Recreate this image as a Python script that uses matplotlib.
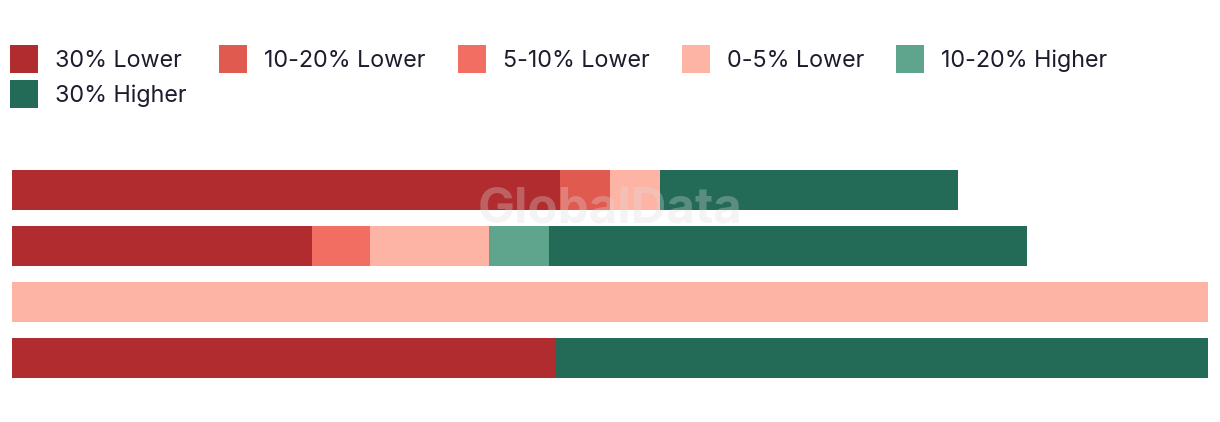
import numpy as np
import matplotlib
matplotlib.use("Agg")
import matplotlib.pyplot as plt
from matplotlib.patches import Patch

# --------------------------------------
# Data (bar rows top -> bottom, share of full width)
# --------------------------------------
rows = ["Row 1", "Row 2", "Row 3", "Row 4"]

series_names = ["30% Lower", "10-20% Lower", "5-10% Lower",
                "0-5% Lower", "10-20% Higher", "30% Higher"]

lower_30 = [45.8, 25.1, 0.0, 45.5]
lower_10_20 = [4.2, 0.0, 0.0, 0.0]
lower_5_10 = [0.0, 4.8, 0.0, 0.0]
lower_0_5 = [4.2, 10.0, 100.0, 0.0]
higher_10_20 = [0.0, 5.0, 0.0, 0.0]
higher_30 = [24.9, 40.0, 0.0, 54.5]

colors = ["#B02C2F", "#E05A50", "#F26D62", "#FEB4A5", "#5FA58E", "#236B57"]

TEXT_COLOR = "#1C1C2E"
FONT = "Inter"

plt.rcParams["font.family"] = [FONT, "DejaVu Sans"]

W, H = 1220, 422
fig = plt.figure(figsize=(W / 100, H / 100), dpi=100)
fig.patch.set_facecolor("white")

# --- Bars axis ---
ax = fig.add_axes([12 / W, 1 - 386 / H, 1196 / W, 224 / H])
series = [lower_30, lower_10_20, lower_5_10, lower_0_5, higher_10_20, higher_30]
y = np.arange(len(rows))
left = np.zeros(len(rows))
for name, vals, col in zip(series_names, series, colors):
    vals = np.array(vals)
    ax.barh(y, vals, left=left, height=40 / 56, color=col,
            edgecolor="none", linewidth=0, label=name)
    left += vals

ax.set_xlim(0, 100)
ax.set_ylim(len(rows) - 0.5, -0.5)
ax.set_axis_off()

# --- Legend (column-major order so it wraps like the reference) ---
handles = [Patch(facecolor=c, edgecolor="none") for c in colors]
order = [0, 5, 1, 2, 3, 4]
fig.legend(
    [handles[i] for i in order], [series_names[i] for i in order],
    loc="upper left", bbox_to_anchor=(10 / W, 1 - 45 / H),
    ncol=5, frameon=False, fontsize=16.8,
    handlelength=1.2, handleheight=1.47, handletextpad=0.73,
    labelspacing=0.3, columnspacing=1.38,
    borderpad=0, borderaxespad=0, labelcolor=TEXT_COLOR,
)

# --- Watermark ---
fig.text(0.5, 1 - 210 / H, "GlobalData", ha="center", va="center",
         fontsize=35.5, fontweight="bold", color="#DDDDDD", alpha=0.3,
         zorder=10)

fig.savefig("out.png", dpi=100, facecolor="white")
